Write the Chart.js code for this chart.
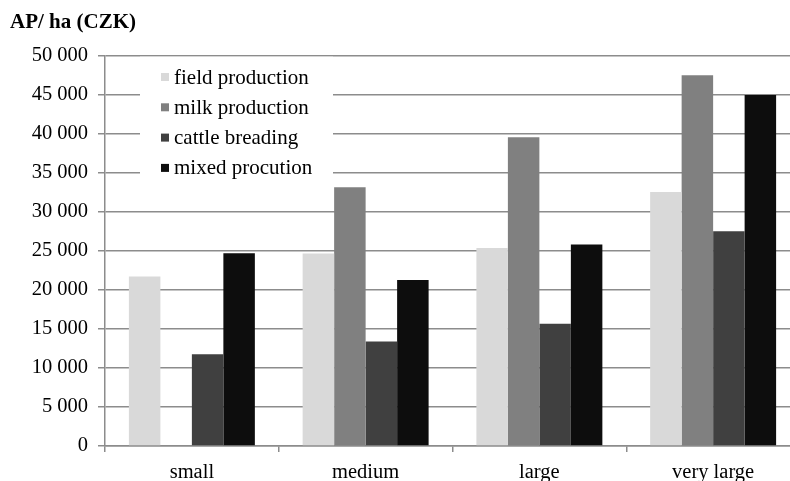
<!DOCTYPE html>
<html>
<head>
<meta charset="utf-8">
<script src="https://cdn.jsdelivr.net/npm/chart.js@4/dist/chart.umd.min.js"></script>
<style>
  html, body { margin: 0; padding: 0; background: #fff; overflow: hidden; }
  #wrap { width: 790px; height: 481px; overflow: hidden; position: relative; }
  #box { width: 812px; height: 481px; position: absolute; left: 0; top: 0; }
</style>
</head>
<body>
<div id="wrap"><div id="box"><canvas id="c"></canvas></div></div>
<script>
const categories = ["small", "medium", "large", "very large"];
const seriesNames = ["field production", "milk production", "cattle breading", "mixed procution"];
const fieldProduction = [21700, 24650, 25350, 32550];
const milkProduction = [null, 33150, 39550, 47500];
const cattleBreading = [11750, 13400, 15650, 27500];
const mixedProcution = [24700, 21250, 25800, 44950];
const seriesColors = ["#d9d9d9", "#808080", "#404040", "#0d0d0d"];
const yTicksMin = 0, yTicksMax = 50000, yTicksStep = 5000;
const titleText = "AP/ ha (CZK)";

const seriesData = [fieldProduction, milkProduction, cattleBreading, mixedProcution];
const FONT = "'Liberation Serif', 'Times New Roman', serif";
const fmt = v => String(v).replace(/\B(?=(\d{3})+(?!\d))/g, ' ');

const legendInside = {
  id: 'legendInside',
  afterDatasetsDraw(chart) {
    const ctx = chart.ctx;
    const a = chart.chartArea;
    ctx.save();
    ctx.fillStyle = '#ffffff';
    ctx.fillRect(140, a.top + 1, 193, 128);
    ctx.font = "21px " + FONT;
    ctx.textBaseline = 'middle';
    chart.data.datasets.forEach((ds, i) => {
      const y = 77 + i * 30.3;
      ctx.fillStyle = ds.backgroundColor;
      ctx.fillRect(161, y - 4, 8, 8);
      ctx.fillStyle = '#000';
      ctx.fillText(ds.label, 174, y + 1);
    });
    ctx.restore();
  }
};

new Chart(document.getElementById('c'), {
  type: 'bar',
  data: {
    labels: categories,
    datasets: seriesNames.map((n, i) => ({
      label: n,
      data: seriesData[i],
      backgroundColor: seriesColors[i],
      borderWidth: 0,
      categoryPercentage: 0.725,
      barPercentage: 1.0
    }))
  },
  options: {
    responsive: true,
    maintainAspectRatio: false,
    animation: false,
    layout: { padding: { left: 10, right: 12, top: 0, bottom: 0 } },
    plugins: {
      legend: { display: false },
      tooltip: { enabled: false },
      title: {
        display: true,
        text: titleText,
        align: 'start',
        color: '#000',
        font: { family: FONT, size: 21, weight: 'bold' },
        padding: { top: 10, bottom: 20.5 }
      }
    },
    scales: {
      x: {
        afterFit(scale) { scale.height = 35; },
        grid: {
          offset: true,
          drawOnChartArea: false,
          drawTicks: true,
          tickLength: 6,
          color: '#8c8c8c',
          lineWidth: 1.5
        },
        border: { color: '#8c8c8c', width: 1.5 },
        ticks: { color: '#000', font: { family: FONT, size: 20.5 }, padding: 8 }
      },
      y: {
        min: yTicksMin,
        max: yTicksMax,
        afterFit(scale) { scale.width = 95; },
        grid: { color: '#8c8c8c', lineWidth: 1.5, tickLength: 7 },
        border: { color: '#8c8c8c', width: 1.5 },
        ticks: {
          stepSize: yTicksStep,
          color: '#000',
          padding: 10,
          font: { family: FONT, size: 20.5 },
          callback: v => fmt(v)
        }
      }
    }
  },
  plugins: [legendInside]
});
</script>
</body>
</html>
